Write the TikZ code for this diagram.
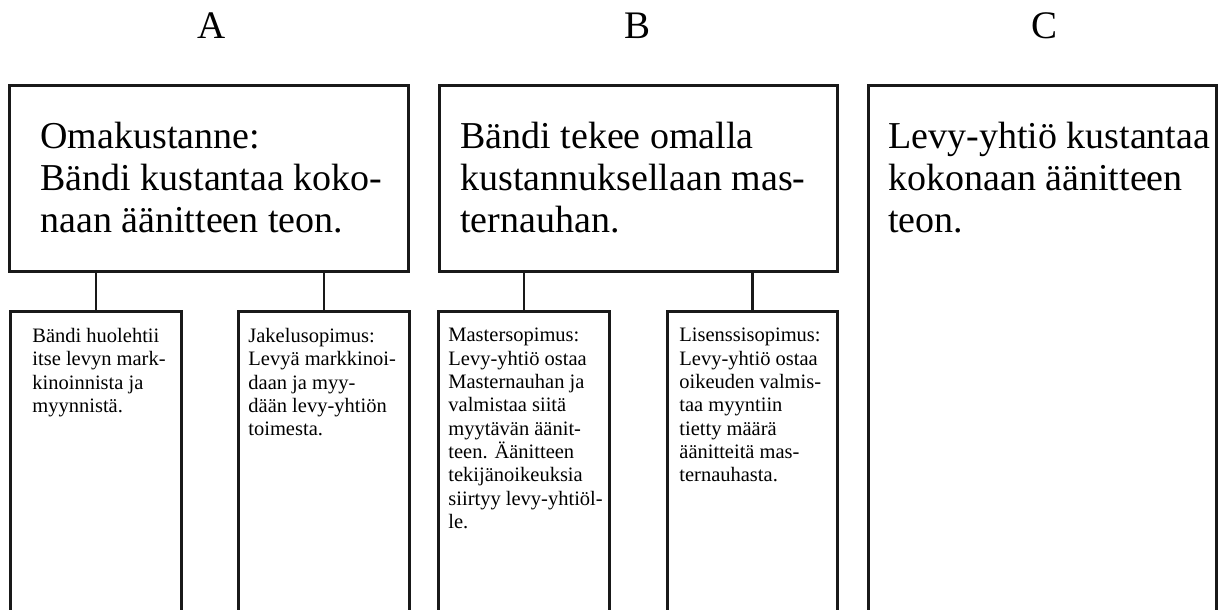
\documentclass[tikz,border=0pt]{standalone}
\usepackage{fontspec}
\setmainfont{Liberation Serif}
\begin{document}
\begin{tikzpicture}[x=0.5pt,y=-0.5pt,
  box/.style={draw=black!90,line width=1.3pt,rectangle,inner sep=0pt,anchor=north west},
  stem/.style={draw=black!90,line width=1.3pt},
  bigtext/.style={anchor=north west,inner sep=0pt,align=left,font=\fontsize{19}{21}\selectfont},
  smalltext/.style={anchor=north west,inner sep=0pt,align=left,font=\fontsize{10.25}{11.65}\selectfont},
  title/.style={anchor=base,inner sep=0pt,font=\fontsize{19.5}{22}\selectfont}]
\useasboundingbox[fill=white] (0,0) rectangle (1223,610);
% titles
\node[title] (tA) at (212,39) {A};
\node[title] (tB) at (638,39) {B};
\node[title] (tC) at (1044,39) {C};
% top boxes
\node[box,minimum width=199.5pt,minimum height=93pt] (A) at (8,84) {};
\node[box,minimum width=199pt,minimum height=93pt] (B) at (438,84) {};
\node[box,minimum width=174pt,minimum height=272pt] (C) at (867,84) {};
% sub boxes
\node[box,minimum width=85.5pt,minimum height=160pt] (A1) at (9,310) {};
\node[box,minimum width=85.5pt,minimum height=160pt] (A2) at (237,310) {};
\node[box,minimum width=85.5pt,minimum height=160pt] (B1) at (437,310) {};
\node[box,minimum width=85pt,minimum height=160pt] (B2) at (666,310) {};
% connectors
\draw[stem] (A1.north) -- (A1.north |- A.south);
\draw[stem] (A2.north) -- (A2.north |- A.south);
\draw[stem] (B1.north) -- (B1.north |- B.south);
\draw[stem] (B2.north) -- (B2.north |- B.south);
% texts
\node[bigtext] (Atext) at (40,122) {Omakustanne:\\Bändi kustantaa koko-\\naan äänitteen teon.};
\node[bigtext] (Btext) at (460,122) {Bändi tekee omalla\\kustannuksellaan mas-\\ternauhan.};
\node[bigtext] (Ctext) at (888,122) {Levy-yhtiö kustantaa\\kokonaan äänitteen\\teon.};
\node[smalltext] (A1text) at (32,328) {Bändi huolehtii\\itse levyn mark-\\kinoinnista ja\\myynnistä.};
\node[smalltext] (A2text) at (248,328) {Jakelusopimus:\\Levyä markkinoi-\\daan ja myy-\\dään levy-yhtiön\\toimesta.};
\node[smalltext] (B1text) at (448,328) {Mastersopimus:\\Levy-yhtiö ostaa\\Masternauhan ja\\valmistaa siitä\\myytävän äänit-\\teen. Äänitteen\\tekijänoikeuksia\\siirtyy levy-yhtiöl-\\le.};
\node[smalltext] (B2text) at (679,328) {Lisenssisopimus:\\Levy-yhtiö ostaa\\oikeuden valmis-\\taa myyntiin\\tietty määrä\\äänitteitä mas-\\ternauhasta.};
\end{tikzpicture}
\end{document}
